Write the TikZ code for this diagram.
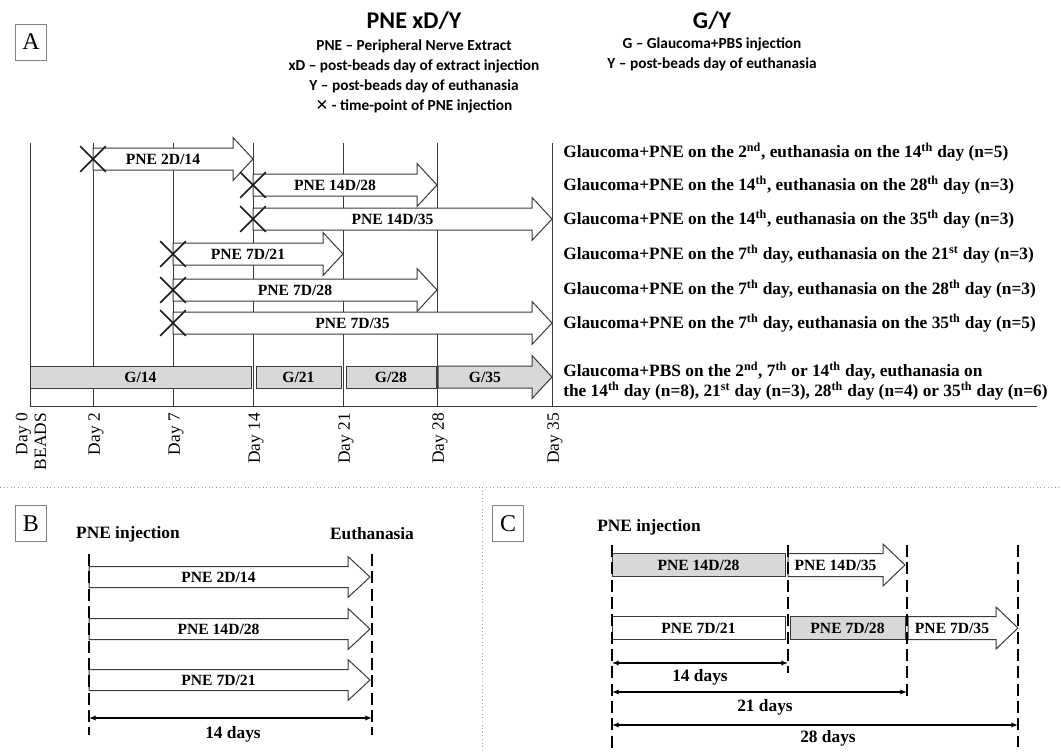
\documentclass[tikz,border=0pt]{standalone}
\usepackage{fontspec}
\setmainfont{Liberation Serif}
\newfontfamily\hdrfont{Carlito}
\newfontfamily\symfont{DejaVu Sans}
\usepackage{tikz}
\usetikzlibrary{arrows.meta, shapes.misc}
\usepackage{xcolor}
\definecolor{tlGray}{HTML}{D8D8D8}
\definecolor{tlLine}{HTML}{3A3A3A}
\definecolor{tlSep}{HTML}{9A9A9A}

% medidas de las flechas de bloque (en px)
\def\shaft{11}\def\headhalf{21.5}\def\headlen{20}

% flecha de bloque: [relleno]{nombre}{x inicio}{x punta}{y}{texto}
\newcommand{\pnearrow}[6][white]{%
  \draw[arrowline, fill=#1] (#3,#5-\shaft) -- (#4-\headlen,#5-\shaft) -- (#4-\headlen,#5-\headhalf) -- (#4,#5)
      -- (#4-\headlen,#5+\headhalf) -- (#4-\headlen,#5+\shaft) -- (#3,#5+\shaft) -- cycle;
  \node[arrowlabel] (#2) at ({(#3+#4-\headlen)/2},#5) {#6};}
% caja sin punta
\newcommand{\pnebox}[6][white]{%
  \draw[arrowline, fill=#1] (#3,#5-\shaft) rectangle (#4,#5+\shaft);
  \node[arrowlabel] (#2) at ({(#3+#4)/2},#5) {#6};}

\begin{document}
\begin{tikzpicture}[
        x=0.75pt, y=-0.75pt,
        % Estilos de los textos
        panel/.style={draw=black!50, line width=0.6pt, minimum width=23pt, minimum height=27pt,
            inner sep=0pt, font=\fontsize{18}{18}\selectfont},
        hdrtitle/.style={font=\hdrfont\bfseries\fontsize{18}{20}\selectfont},
        hdrsub/.style={font=\hdrfont\bfseries\fontsize{11.5}{15}\selectfont, align=center},
        rowtext/.style={anchor=west, inner sep=0pt, align=left, font=\bfseries\fontsize{13}{15}\selectfont},
        arrowlabel/.style={inner sep=0pt, font=\bfseries\fontsize{11.7}{13}\selectfont},
        daylabel/.style={rotate=90, anchor=east, inner sep=0pt, align=right, font=\fontsize{13}{14}\selectfont},
        toplabel/.style={inner sep=0pt, font=\bfseries\fontsize{13}{15}\selectfont},
        % Estilos de las lineas
        gridline/.style={draw=tlLine, line width=0.75pt},
        arrowline/.style={draw=tlLine, line width=0.75pt},
        xmark/.style={cross out, draw=black!90, line width=1.2pt, minimum size=18pt, inner sep=0pt},
        sepline/.style={draw=tlSep, dotted, line width=0.7pt},
        dashline/.style={draw=black, line width=1.5pt, dash pattern=on 9pt off 4pt},
        spanarrow/.style={{Latex[length=5pt,width=4pt]}-{Latex[length=5pt,width=4pt]}, line width=1.1pt}
    ]
    \useasboundingbox (0,0) rectangle (1061,753);

    % -- Encabezado --
    \node[panel] (boxA) at (31,42) {A};
    \node[hdrtitle] (pnetitle) at (414,21) {PNE xD/Y};
    \node[hdrsub] (pnelegend) at (414,76) {PNE – Peripheral Nerve Extract\\xD – post-beads day of extract injection\\Y – post-beads day of euthanasia\\{\symfont\mdseries ✕} - time-point of PNE injection};
    \node[hdrtitle] (gtitle) at (712,21) {G/Y};
    \node[hdrsub] (glegend) at (712,54) {G – Glaucoma+PBS injection\\Y – post-beads day of euthanasia};

    % -- Eje de dias --
    \foreach \gx in {30,93,173,253,343,437,552}
        \draw[gridline] (\gx,143) -- (\gx,406);
    \draw[gridline] (30,406) -- (1037,406);
    \node[daylabel] (d30) at (31,413) {Day 0\\BEADS};
    \foreach \dx/\dl in {93/Day 2, 173/Day 7, 253/Day 14, 343/Day 21, 437/Day 28, 552/Day 35}
        \node[daylabel] (d\dx) at (\dx+3,413) {\dl};

    % -- Grupos PNE --
    \pnearrow{a1}{93}{253}{159}{PNE 2D/14}
    \pnearrow{a2}{253}{437}{185}{PNE 14D/28}
    \pnearrow{a3}{253}{552}{219}{PNE 14D/35}
    \pnearrow{a4}{173}{343}{254}{PNE 7D/21}
    \pnearrow{a5}{173}{437}{290}{PNE 7D/28}
    \pnearrow{a6}{173}{552}{323}{PNE 7D/35}

    % -- Grupos control G --
    \pnebox[tlGray]{g14}{30}{251}{377}{G/14}
    \pnebox[tlGray]{g21}{256}{341}{377}{G/21}
    \pnebox[tlGray]{g28}{346}{436}{377}{G/28}
    \pnearrow[tlGray]{g35}{438}{552}{377}{G/35}

    % -- Inyecciones --
    \foreach \xx/\xy [count=\i] in {93/159, 253/185, 253/219, 173/254, 173/290, 173/323}
        \node[xmark] (x\i) at (\xx,\xy) {};

    % -- Descripcion de grupos --
    \node[rowtext] (t1) at (563,152) {Glaucoma+PNE on the 2\textsuperscript{nd}, euthanasia on the 14\textsuperscript{th} day (n=5)};
    \node[rowtext] (t2) at (563,185) {Glaucoma+PNE on the 14\textsuperscript{th}, euthanasia on the 28\textsuperscript{th} day (n=3)};
    \node[rowtext] (t3) at (563,219) {Glaucoma+PNE on the 14\textsuperscript{th}, euthanasia on the 35\textsuperscript{th} day (n=3)};
    \node[rowtext] (t4) at (563,254) {Glaucoma+PNE on the 7\textsuperscript{th} day, euthanasia on the 21\textsuperscript{st} day (n=3)};
    \node[rowtext] (t5) at (563,289) {Glaucoma+PNE on the 7\textsuperscript{th} day, euthanasia on the 28\textsuperscript{th} day (n=3)};
    \node[rowtext] (t6) at (563,323) {Glaucoma+PNE on the 7\textsuperscript{th} day, euthanasia on the 35\textsuperscript{th} day (n=5)};
    \node[rowtext] (t7) at (563,381) {Glaucoma+PBS on the 2\textsuperscript{nd}, 7\textsuperscript{th} or 14\textsuperscript{th} day, euthanasia on\\the 14\textsuperscript{th} day (n=8), 21\textsuperscript{st} day (n=3), 28\textsuperscript{th} day (n=4) or 35\textsuperscript{th} day (n=6)};

    % -- Separadores --
    \draw[sepline] (0,487) -- (1061,487);
    \draw[sepline] (482,487) -- (482,753);

    % -- Panel B --
    \def\shaft{10.5}\def\headhalf{20.5}\def\headlen{22}
    \node[panel] (boxB) at (31,523.5) {B};
    \node[toplabel] (binj) at (128,534) {PNE injection};
    \node[toplabel] (beut) at (372,534) {Euthanasia};
    \pnearrow{b1}{89}{370}{577}{PNE 2D/14}
    \pnearrow{b2}{89}{370}{629}{PNE 14D/28}
    \pnearrow{b3}{89}{370}{680}{PNE 7D/21}
    \draw[dashline] (89,554) -- (89,735);
    \draw[dashline] (372,554) -- (372,735);
    \coordinate (bstart) at (89,718);
    \coordinate (bend) at (372,718);
    \draw[spanarrow] (bstart) -- (bend);
    \node[toplabel] (b14) at (233,734) {14 days};

    % -- Panel C --
    \def\shaft{11.5}\def\headhalf{21}\def\headlen{22}
    \node[panel] (boxC) at (508,523.5) {C};
    \node[toplabel, anchor=west] (cinj) at (597,527) {PNE injection};
    \pnebox[tlGray]{c1}{612}{785}{565}{PNE 14D/28}
    \pnearrow{c2}{788}{905}{565}{PNE 14D/35}
    \pnebox{c3}{612}{785}{628}{PNE 7D/21}
    \pnebox[tlGray]{c4}{790}{905}{628}{PNE 7D/28}
    \pnearrow{c5}{908}{1018}{628}{PNE 7D/35}
    \draw[dashline] (612,545) -- (612,750);
    \draw[dashline] (788,545) -- (788,673);
    \draw[dashline] (907,545) -- (907,700);
    \draw[dashline] (1018,545) -- (1018,747);
    \coordinate (c0a) at (612,663);
    \coordinate (c14) at (788,663);
    \coordinate (c0b) at (612,692);
    \coordinate (c21) at (907,692);
    \coordinate (c0c) at (612,725);
    \coordinate (c28) at (1018,725);
    \draw[spanarrow] (c0a) -- (c14);
    \draw[spanarrow] (c0b) -- (c21);
    \draw[spanarrow] (c0c) -- (c28);
    \node[toplabel] (c14l) at (700,677) {14 days};
    \node[toplabel] (c21l) at (765,707) {21 days};
    \node[toplabel] (c28l) at (828,738) {28 days};

\end{tikzpicture}
\end{document}
